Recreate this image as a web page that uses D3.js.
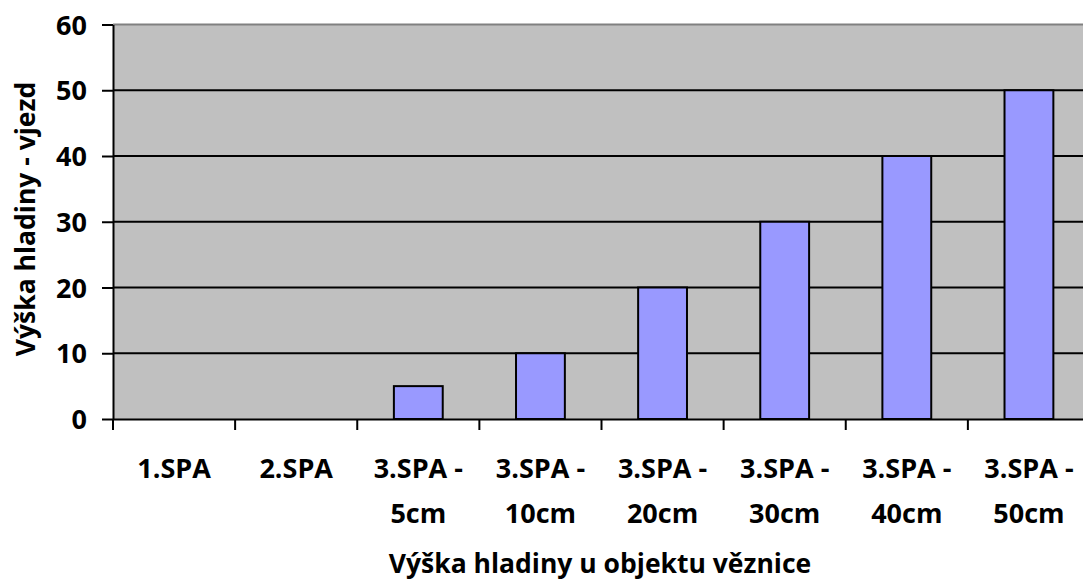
<!DOCTYPE html>
<html lang="cs">
<head>
<meta charset="UTF-8">
<title>Výška hladiny</title>
<script src="https://cdn.jsdelivr.net/npm/d3@7"></script>
<style>
  body { margin: 0; background: #fff; }
  text { font-family: "Open Sans", "Noto Sans", sans-serif; font-weight: bold; fill: #000; }
</style>
</head>
<body>
<div id="container"></div>
<script>
    const width = 1083;
    const height = 583;
    const margin = { top: 24.5, left: 113, right: -7, bottom: 164 };

    const categories = ['1.SPA', '2.SPA', '3.SPA - 5cm', '3.SPA - 10cm', '3.SPA - 20cm', '3.SPA - 30cm', '3.SPA - 40cm', '3.SPA - 50cm'];
    const values = [0, 0, 5, 10, 20, 30, 40, 50];
    const yTicks = [0, 10, 20, 30, 40, 50, 60];

    const x = d3.scaleBand().domain(categories).range([margin.left, width - margin.right]).paddingInner(0.6).paddingOuter(0.3);
    const xb = d3.scaleBand().domain(categories).range([margin.left, width - margin.right]);
    const y = d3.scaleLinear().domain([0, 60]).range([height - margin.bottom, margin.top]);

    const svg = d3.select('#container').append('svg')
        .attr('width', width)
        .attr('height', height);

    // plot area
    svg.append('rect')
        .attr('x', margin.left).attr('y', margin.top)
        .attr('width', width - margin.right - margin.left)
        .attr('height', y(0) - margin.top)
        .attr('fill', '#c0c0c0');

    // grid lines
    svg.append('g').selectAll('line').data(yTicks.filter(d => d > 0 && d < 60)).join('line')
        .attr('x1', margin.left).attr('x2', width - margin.right)
        .attr('y1', d => y(d)).attr('y2', d => y(d))
        .attr('stroke', '#000').attr('stroke-width', 2);

    // top border
    svg.append('line')
        .attr('x1', margin.left).attr('x2', width - margin.right)
        .attr('y1', y(60)).attr('y2', y(60))
        .attr('stroke', '#808080').attr('stroke-width', 2);

    // bars
    svg.append('g').selectAll('rect').data(values).join('rect')
        .attr('x', (d, i) => x(categories[i]))
        .attr('y', d => y(d))
        .attr('width', x.bandwidth())
        .attr('height', d => y(0) - y(d))
        .attr('fill', '#9999ff')
        .attr('stroke', '#000')
        .attr('stroke-width', 2)
        .style('display', d => d > 0 ? null : 'none');

    // y axis
    const gy = svg.append('g').attr('transform', `translate(${margin.left}, 0)`)
        .call(d3.axisLeft(y).tickValues(yTicks).tickSize(11).tickPadding(15).tickSizeOuter(0));
    gy.select('.domain').attr('stroke', '#000').attr('stroke-width', 2);
    gy.selectAll('.tick line').attr('stroke-width', 2);
    gy.selectAll('.tick text').attr('font-size', 27).attr('font-family', null).attr('dy', '0.36em');

    // x axis
    const gx = svg.append('g').attr('transform', `translate(0, ${y(0)})`)
        .call(d3.axisBottom(xb).tickSize(0).tickSizeOuter(0).tickFormat(''));
    gx.select('.domain').attr('stroke', '#000').attr('stroke-width', 2);
    gx.selectAll('.tick line').remove();

    svg.append('g').selectAll('line').data(categories).join('line')
        .attr('x1', d => xb(d)).attr('x2', d => xb(d))
        .attr('y1', y(0)).attr('y2', y(0) + 11)
        .attr('stroke', '#000').attr('stroke-width', 2);

    const labels = svg.append('g').selectAll('text').data(categories).join('text')
        .attr('x', d => xb(d) + xb.bandwidth() / 2)
        .attr('y', 477.5)
        .attr('text-anchor', 'middle')
        .attr('font-size', 27);
    labels.each(function (d) {
        const parts = d.split(' - ');
        const t = d3.select(this);
        if (parts.length === 1) {
            t.append('tspan').text(d);
        } else {
            t.append('tspan').attr('x', xb(d) + xb.bandwidth() / 2).text(parts[0] + ' -');
            t.append('tspan').attr('x', xb(d) + xb.bandwidth() / 2).attr('dy', 45).text(parts[1]);
        }
    });

    // axis titles
    svg.append('text')
        .attr('x', 600)
        .attr('y', 573)
        .attr('text-anchor', 'middle')
        .attr('font-size', 26.5)
        .text('Výška hladiny u objektu věznice');

    svg.append('text')
        .attr('transform', `translate(35, 219) rotate(-90)`)
        .attr('text-anchor', 'middle')
        .attr('font-size', 26.5)
        .text('Výška hladiny - vjezd');
</script>
</body>
</html>
